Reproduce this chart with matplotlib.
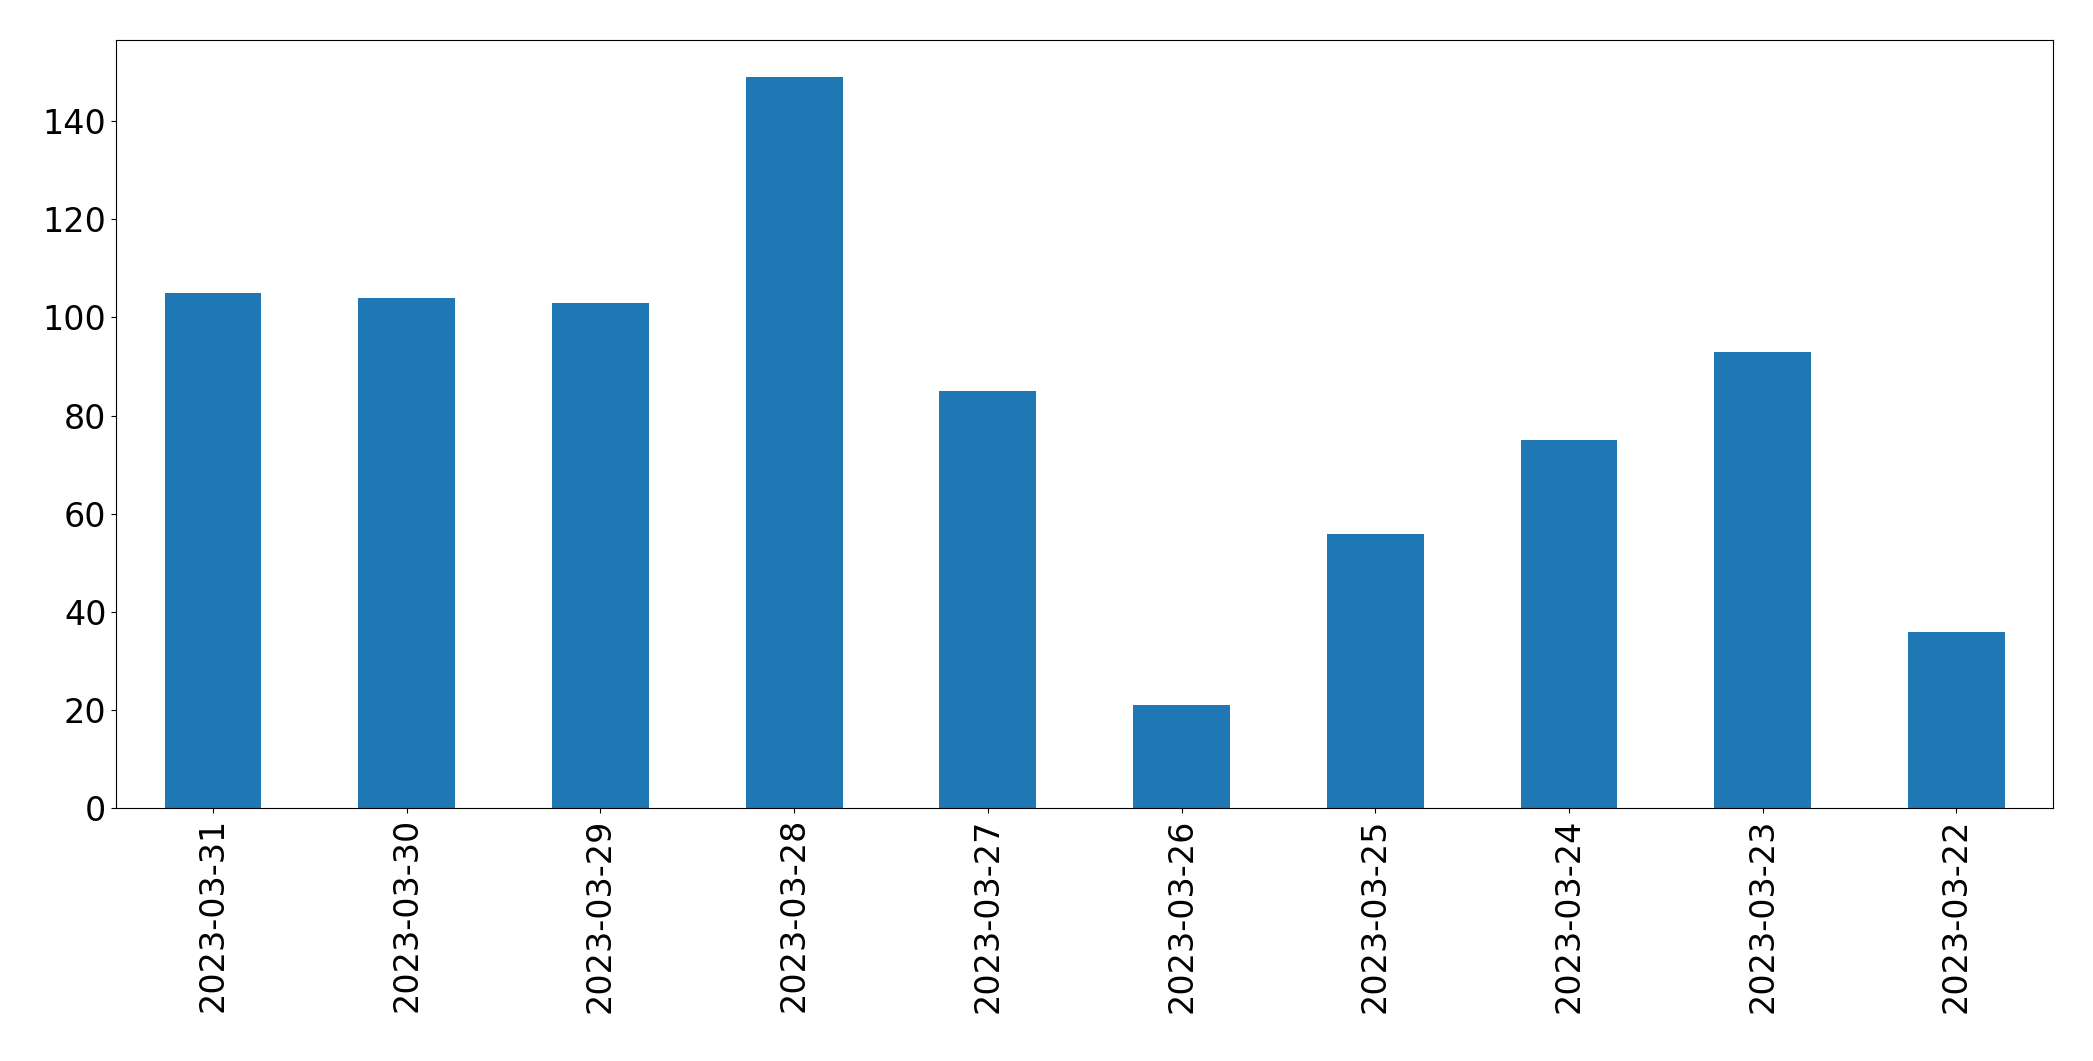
import matplotlib
matplotlib.use("Agg")
import matplotlib.pyplot as plt

dates = ["2023-03-31","2023-03-30","2023-03-29","2023-03-28","2023-03-27",
         "2023-03-26","2023-03-25","2023-03-24","2023-03-23","2023-03-22"]
values = [105, 104, 103, 149, 85, 21, 56, 75, 93, 36]

fig = plt.figure(figsize=(20.93, 10.61), dpi=100)
ax = fig.add_axes([0.0555, 0.238, 0.9255, 0.724])
x = list(range(len(dates)))
ax.bar(x, values, width=0.5, color="#1f77b4")
ax.set_xticks(x)
ax.set_xticklabels(dates, rotation=90)
ax.set_xlim(-0.5, len(dates) - 0.5)
ax.tick_params(labelsize=24)
fig.savefig("out.png", dpi=100)
